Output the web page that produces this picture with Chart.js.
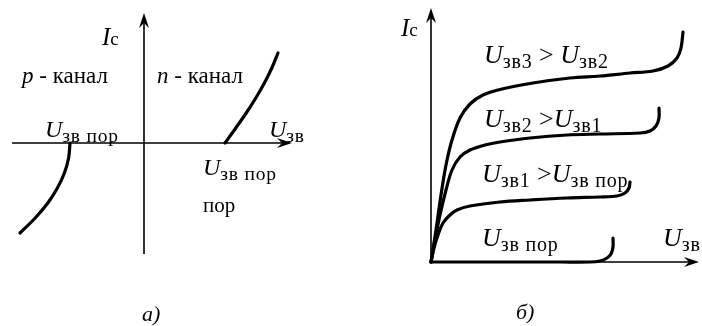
<!DOCTYPE html>
<html>
<head>
<meta charset="utf-8">
<script src="https://cdn.jsdelivr.net/npm/chart.js@4"></script>
<style>
  body { margin: 0; background: #fff; }
  #wrap { position: relative; width: 702px; height: 326px; overflow: hidden; font-family: "Liberation Serif", serif; color: #000; }
  canvas { position: absolute; top: 0; }
  #leftChart { left: 0; }
  #rightChart { left: 351px; }
  .lbl { position: absolute; line-height: 1; white-space: nowrap; }
  .lbl sub { vertical-align: -5px; line-height: 0; letter-spacing: 0.8px; }
</style>
</head>
<body>
<div id="wrap">
  <canvas id="leftChart" width="351" height="326"></canvas>
  <canvas id="rightChart" width="351" height="326"></canvas>
</div>
<script>
// а) transfer characteristics, Ugs (x) vs Id (y)
const nChanX = [4.05, 4.59, 5.11, 5.59, 6.02, 6.39, 6.7];
const nChanY = [0, 0.75, 1.5, 2.25, 3.0, 3.75, 4.5];
const pChanX = [-3.7, -3.77, -3.98, -4.33, -4.81, -5.44, -6.2];
const pChanY = [0, -0.75, -1.5, -2.25, -3.0, -3.75, -4.5];

// б) output characteristics, Uds (x) vs Id (y)
const out3X = [0, 0.25, 0.5, 0.75, 1.05, 1.45, 1.95, 2.6, 3.55, 5.1, 6.95, 8.45, 9.95, 11.1, 11.85, 12.3, 12.5, 12.6];
const out3Y = [0, 1.6, 3.35, 4.85, 6.1, 7.2, 7.9, 8.35, 8.65, 8.95, 9.2, 9.3, 9.45, 9.55, 9.8, 10.2, 10.7, 11.5];
const out2X = [0, 0.2, 0.45, 0.75, 1.05, 1.45, 1.95, 2.7, 3.45, 4.95, 6.8, 8.45, 10.45, 10.95, 11.25, 11.4, 11.4];
const out2Y = [0, 1.1, 2.35, 3.6, 4.6, 5.25, 5.6, 5.85, 6.0, 6.2, 6.35, 6.4, 6.45, 6.55, 6.8, 7.2, 7.7];
const out1X = [0, 0.15, 0.35, 0.6, 0.95, 1.3, 1.95, 3.45, 4.95, 6.8, 8.45, 9.3, 9.7, 9.9, 9.95];
const out1Y = [0, 0.7, 1.35, 1.95, 2.35, 2.6, 2.8, 3.0, 3.1, 3.2, 3.25, 3.3, 3.45, 3.7, 4.0];
const outThX = [0, 3.0, 6.45, 7.95, 8.45, 8.8, 9.0, 9.1, 9.1];
const outThY = [0, 0, 0, 0, 0.05, 0.2, 0.4, 0.75, 1.2];

// arrowhead helper
function arrowHead(ctx, x, y, ang) {
    ctx.save();
    ctx.translate(x, y);
    ctx.rotate(ang);
    ctx.beginPath();
    ctx.moveTo(0, 0);
    ctx.lineTo(-15, -5);
    ctx.lineTo(-10, 0);
    ctx.lineTo(-15, 5);
    ctx.closePath();
    ctx.fill();
    ctx.restore();
}

// axes with arrows, crossing at (0,0)
const arrowAxes = {
    id: 'arrowAxes',
    beforeDatasetsDraw(chart, args, opts) {
        const ctx = chart.ctx;
        const xs = chart.scales.x, ys = chart.scales.y;
        const x0 = xs.getPixelForValue(0), y0 = ys.getPixelForValue(0);
        const xa = xs.getPixelForValue(opts.x[0]), xb = xs.getPixelForValue(opts.x[1]);
        const ya = ys.getPixelForValue(opts.y[0]), yb = ys.getPixelForValue(opts.y[1]);
        ctx.save();
        ctx.strokeStyle = '#000';
        ctx.fillStyle = '#000';
        ctx.lineWidth = 1.6;
        ctx.beginPath();
        ctx.moveTo(xa, y0);
        ctx.lineTo(xb - 8, y0);
        ctx.moveTo(x0, ya);
        ctx.lineTo(x0, yb + 8);
        ctx.stroke();
        arrowHead(ctx, xb, y0, 0);
        arrowHead(ctx, x0, yb, -Math.PI / 2);
        ctx.restore();
    }
};

const makeChart = (id, curves, xRange, yRange, axes) => {
    return new Chart(document.getElementById(id), {
        type: 'scatter',
        data: {
            datasets: curves.map(c => ({
                data: c[0].map((x, i) => ({ x, y: c[1][i] })),
                showLine: true,
                borderColor: '#000',
                borderWidth: 3.2,
                pointRadius: 0,
                tension: 0.35,
                fill: false,
                borderCapStyle: 'round'
            }))
        },
        options: {
            responsive: false,
            animation: false,
            events: [],
            layout: { padding: 0 },
            scales: {
                x: { type: 'linear', display: false, bounds: 'data', min: xRange[0], max: xRange[1] },
                y: { type: 'linear', display: false, bounds: 'data', min: yRange[0], max: yRange[1] }
            },
            plugins: {
                legend: { display: false },
                tooltip: { enabled: false },
                arrowAxes: axes
            }
        },
        plugins: [arrowAxes]
    });
};

makeChart('leftChart', [[nChanX, nChanY], [pChanX, pChanY]],
    [-7.2, 10.35], [-9.15, 7.15], { x: [-6.6, 7.4], y: [-5.55, 6.5] });

makeChart('rightChart', [[out3X, out3Y], [out2X, out2Y], [out1X, out1Y], [outThX, outThY]],
    [-4, 13.55], [-3.2, 13.1], { x: [0, 13.4], y: [0, 12.7] });

// text labels: x = left edge, y = baseline, s = font size
const Ul = (sub) => '<i>U</i><sub style="font-size:19.5px">' + sub + '</sub>';
const Ur = (sub) => '<i>U</i><sub style="font-size:20px">' + sub + '</sub>';
const Ic = '<i>I</i><span style="font-size:19px">c</span>';
const labels = [
    { x: 102, y: 45, s: 25, h: Ic },
    { x: 22, y: 83, s: 23, h: '<i>p</i> - канал' },
    { x: 157, y: 83, s: 23, h: '<i>n</i> - канал' },
    { x: 45, y: 137, s: 24, h: Ul('зв пор') },
    { x: 269, y: 137, s: 24, h: Ul('зв') },
    { x: 203, y: 175, s: 24, h: Ul('зв пор') },
    { x: 203, y: 213, s: 21, h: 'пор' },
    { x: 142, y: 321, s: 22, h: '<i>а)</i>' },
    { x: 401, y: 36, s: 25, h: Ic },
    { x: 484, y: 64, s: 26, h: Ur('зв3') + ' &gt; ' + Ur('зв2') },
    { x: 484, y: 128, s: 26, h: Ur('зв2') + ' &gt;' + Ur('зв1') },
    { x: 482, y: 183, s: 26, h: Ur('зв1') + ' &gt;' + Ur('зв пор') },
    { x: 482, y: 247, s: 26, h: Ur('зв пор') },
    { x: 663, y: 247, s: 26, h: Ur('зв') },
    { x: 516, y: 319, s: 22, h: '<i>б)</i>' }
];

const wrap = document.getElementById('wrap');
labels.forEach(l => {
    const d = document.createElement('div');
    d.className = 'lbl';
    d.style.fontSize = l.s + 'px';
    d.style.left = l.x + 'px';
    d.style.top = (l.y - 0.8375 * l.s) + 'px';
    d.innerHTML = l.h;
    wrap.appendChild(d);
});
</script>
</body>
</html>
